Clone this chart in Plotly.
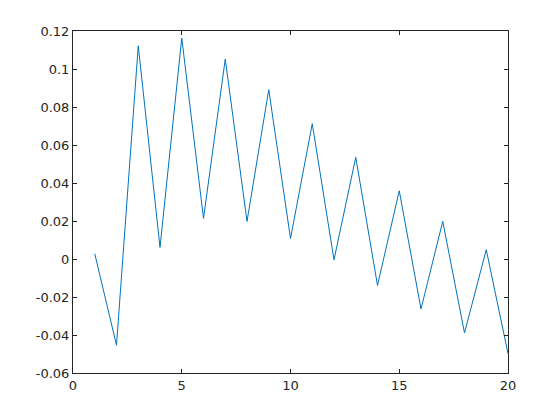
import plotly.graph_objects as go

x_vals = list(range(1, 21))
y_vals = [0.0028, -0.0454, 0.1122, 0.0061, 0.1163, 0.0214, 0.1052, 0.0198, 0.0891, 0.0108,
          0.0712, -0.0004, 0.0535, -0.0139, 0.0359, -0.0263, 0.0198, -0.0389, 0.0049, -0.0498]

x_ticks = [0, 5, 10, 15, 20]
y_ticks = [-0.06, -0.04, -0.02, 0, 0.02, 0.04, 0.06, 0.08, 0.1, 0.12]
y_tick_text = ["-0.06", "-0.04", "-0.02", "0", "0.02", "0.04", "0.06", "0.08", "0.1", "0.12"]

fig = go.Figure()
fig.add_trace(go.Scatter(x=x_vals, y=y_vals, mode="lines",
                         line=dict(color="#0072BD", width=1)))

axis_common = dict(showgrid=False, zeroline=False, showline=True, linecolor="#262626",
                   linewidth=1, mirror="allticks", ticks="inside", ticklen=4,
                   tickcolor="#262626", tickwidth=1,
                   tickfont=dict(family="DejaVu Sans", size=13, color="#262626"))

fig.update_layout(
    width=552, height=412,
    margin=dict(l=65, r=52, t=23, b=47),
    paper_bgcolor="white", plot_bgcolor="white",
    showlegend=False,
    xaxis=dict(range=[0, 20], tickvals=x_ticks, ticktext=[str(v) for v in x_ticks], **axis_common),
    yaxis=dict(range=[-0.06, 0.12], tickvals=y_ticks, ticktext=y_tick_text, **axis_common),
)

fig.write_html("out.html")
